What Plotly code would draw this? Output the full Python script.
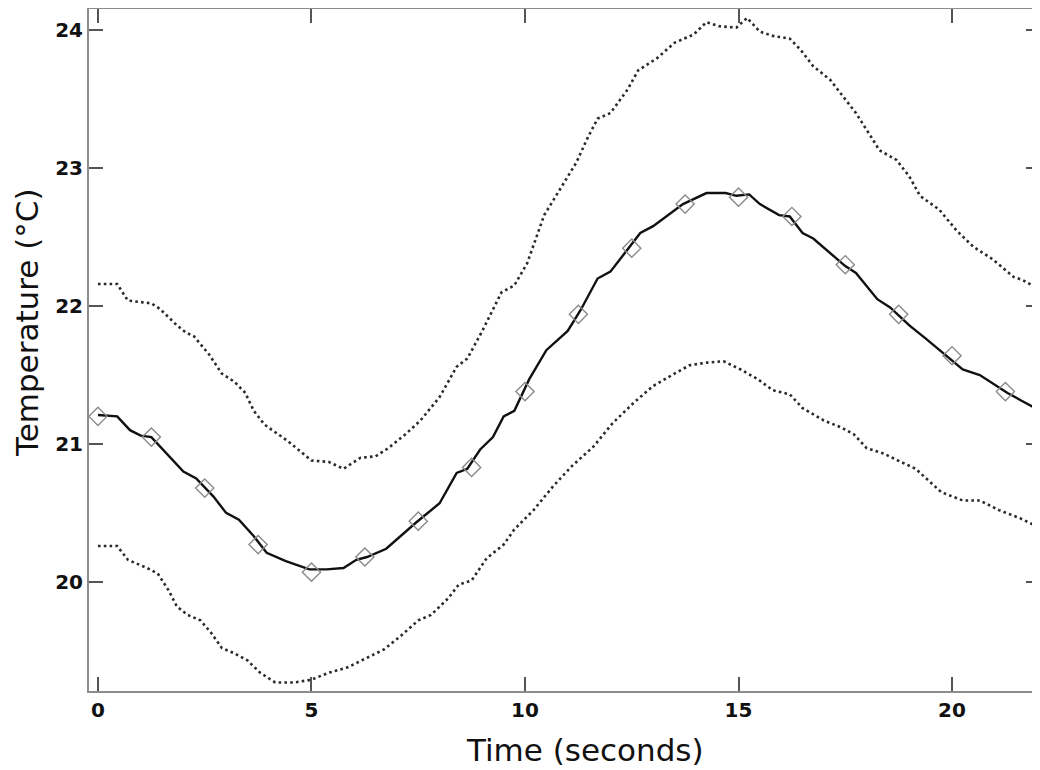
import plotly.graph_objects as go

# upper dotted bound
upper_t = [0, 0.45, 0.7, 1.25, 1.45, 1.85, 2.05, 2.25, 2.6, 2.9, 3.2, 3.45, 3.65, 3.9, 4.45, 5.0,
           5.4, 5.75, 6.15, 6.5, 6.8, 7.2, 7.55, 8.0, 8.4, 8.65, 9.0, 9.45, 9.75, 10.05, 10.45,
           10.85, 11.2, 11.45, 11.7, 12.0, 12.4, 12.65, 13.1, 13.5, 13.95, 14.25, 14.55, 14.95,
           15.2, 15.5, 15.8, 16.2, 16.45, 16.75, 17.15, 17.45, 17.75, 18.1, 18.3, 18.7, 19.0,
           19.25, 19.7, 20.1, 20.5, 20.95, 21.45, 21.65, 22.0]
upper_v = [22.16, 22.16, 22.04, 22.02, 21.98, 21.86, 21.81, 21.78, 21.65, 21.51, 21.45, 21.37,
           21.24, 21.14, 21.02, 20.88, 20.87, 20.82, 20.90, 20.91, 20.97, 21.07, 21.17, 21.34,
           21.56, 21.62, 21.82, 22.10, 22.15, 22.31, 22.66, 22.86, 23.04, 23.21, 23.36, 23.40,
           23.57, 23.71, 23.80, 23.91, 23.97, 24.06, 24.03, 24.02, 24.09, 23.99, 23.96, 23.94,
           23.86, 23.74, 23.64, 23.52, 23.40, 23.23, 23.13, 23.06, 22.94, 22.80, 22.70, 22.55,
           22.43, 22.34, 22.21, 22.19, 22.13]

# lower dotted bound
lower_t = [0, 0.45, 0.7, 1.15, 1.4, 1.65, 1.85, 2.1, 2.4, 2.65, 2.9, 3.2, 3.5, 3.8, 4.15, 4.6,
           5.0, 5.4, 5.85, 6.3, 6.7, 7.1, 7.5, 7.8, 8.2, 8.45, 8.75, 9.1, 9.5, 9.75, 10.2, 10.65,
           11.1, 11.6, 12.05, 12.55, 13.0, 13.5, 13.85, 14.25, 14.65, 15.05, 15.45, 15.8, 16.2,
           16.5, 17.0, 17.4, 17.7, 18.0, 18.4, 18.8, 19.15, 19.5, 19.75, 20.25, 20.65, 21.1,
           21.6, 22.0]
lower_v = [20.26, 20.26, 20.16, 20.10, 20.06, 19.94, 19.82, 19.76, 19.72, 19.63, 19.52, 19.48,
           19.43, 19.34, 19.27, 19.27, 19.29, 19.34, 19.38, 19.45, 19.51, 19.61, 19.72, 19.76,
           19.88, 19.98, 20.01, 20.17, 20.27, 20.38, 20.52, 20.69, 20.84, 20.98, 21.15, 21.30,
           21.42, 21.51, 21.57, 21.59, 21.60, 21.54, 21.47, 21.39, 21.36, 21.26, 21.17, 21.12,
           21.07, 20.97, 20.93, 20.87, 20.82, 20.72, 20.65, 20.59, 20.59, 20.52, 20.46, 20.40]

# mean temperature (solid)
mean_t = [0, 0.45, 0.75, 1.0, 1.25, 1.6, 2.0, 2.3, 2.7, 3.0, 3.3, 3.65, 3.95, 4.4, 4.95, 5.35,
          5.75, 6.05, 6.3, 6.75, 7.45, 8.0, 8.4, 8.65, 8.95, 9.25, 9.5, 9.75, 10.1, 10.5, 11.0,
          11.3, 11.7, 12.0, 12.45, 12.7, 13.0, 13.3, 13.7, 14.25, 14.7, 14.95, 15.25, 15.5,
          15.95, 16.2, 16.5, 16.75, 17.2, 17.5, 17.75, 18.25, 18.55, 19.0, 19.4, 19.95, 20.25,
          20.65, 20.9, 21.3, 21.65, 22.0]
mean_v = [21.21, 21.20, 21.10, 21.06, 21.05, 20.93, 20.80, 20.75, 20.62, 20.50, 20.45, 20.33,
          20.21, 20.15, 20.09, 20.09, 20.10, 20.16, 20.18, 20.24, 20.43, 20.57, 20.79, 20.82,
          20.96, 21.05, 21.20, 21.24, 21.47, 21.68, 21.82, 21.97, 22.20, 22.25, 22.43, 22.53,
          22.58, 22.65, 22.74, 22.82, 22.82, 22.80, 22.81, 22.74, 22.66, 22.65, 22.53, 22.49,
          22.37, 22.29, 22.24, 22.05, 21.99, 21.86, 21.76, 21.62, 21.54, 21.50, 21.45, 21.37,
          21.31, 21.25]

# diamond samples
marker_t = [0, 1.25, 2.5, 3.75, 5, 6.25, 7.5, 8.75, 10, 11.25, 12.5, 13.75, 15, 16.25, 17.5,
            18.75, 20, 21.25]
marker_v = [21.20, 21.05, 20.68, 20.27, 20.07, 20.18, 20.44, 20.83, 21.38, 21.94, 22.42, 22.74,
            22.79, 22.65, 22.30, 21.94, 21.64, 21.38]

x_ticks = [0, 5, 10, 15, 20]
y_ticks = [20, 21, 22, 23, 24]
x_range = [-0.21, 22.06]
y_range = [19.208, 24.155]

fig = go.Figure()
dots = dict(color="#2a2a2a", width=2.6, dash="2.6px,3.2px")
fig.add_trace(go.Scatter(x=upper_t, y=upper_v, mode="lines", line=dots))
fig.add_trace(go.Scatter(x=lower_t, y=lower_v, mode="lines", line=dots))
fig.add_trace(go.Scatter(x=mean_t, y=mean_v, mode="lines", line=dict(color="#111111", width=2.4)))
fig.add_trace(go.Scatter(x=marker_t, y=marker_v, mode="markers",
                         marker=dict(symbol="diamond-open", size=14, color="#8a8a8a",
                                     line=dict(width=1.4, color="#8a8a8a"))))
# empty trace so the right-hand tick axis gets drawn
fig.add_trace(go.Scatter(x=[None], y=[None], yaxis="y2", mode="lines", hoverinfo="skip"))

tick_style = dict(ticks="inside", ticklen=14, tickwidth=1.5, tickcolor="#555555",
                  showgrid=False, zeroline=False,
                  tickfont=dict(family="DejaVu Sans", size=20, color="#111111", weight="bold"))

fig.update_layout(
    xaxis=dict(range=x_range, tickvals=x_ticks, showline=True, linecolor="#8c8c8c",
               linewidth=2, mirror="ticks", **tick_style),
    yaxis=dict(range=y_range, tickvals=y_ticks, showline=True, linecolor="#8c8c8c",
               linewidth=2, mirror=False, **tick_style),
    # right-hand ticks only, no frame line on that side
    yaxis2=dict(range=y_range, tickvals=y_ticks, overlaying="y", side="right", anchor="x",
                showline=False, showticklabels=False, **tick_style),
)

# page body has an 8px margin, so the figure is sized to fit the 1040x770 window
fig.update_layout(
    width=1032, height=762,
    margin=dict(l=81, r=0, t=1, b=79),
    paper_bgcolor="white", plot_bgcolor="white",
    showlegend=False,
    font=dict(family="DejaVu Sans", color="#111111"),
    annotations=[
        dict(text="Time (seconds)", xref="paper", yref="paper", x=0.5216, y=-0.0865,
             xanchor="center", yanchor="middle", showarrow=False,
             font=dict(size=31, color="#111111")),
        dict(text="Temperature (°C)", xref="paper", yref="paper", x=-0.0652, y=0.541,
             xanchor="center", yanchor="middle", textangle=-90, showarrow=False,
             font=dict(size=31, color="#111111")),
    ],
)

fig.write_html("out.html")
